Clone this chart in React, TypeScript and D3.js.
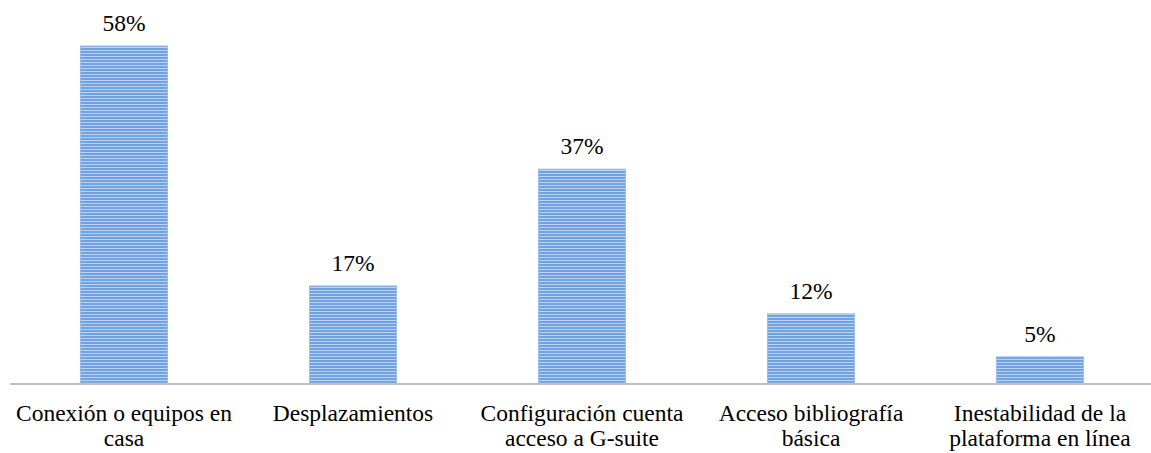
import React from "react";
import * as d3 from "d3";

const categories: string[][] = [
  ["Conexión o equipos en", "casa"],
  ["Desplazamientos"],
  ["Configuración cuenta", "acceso a G-suite"],
  ["Acceso bibliografía", "básica"],
  ["Inestabilidad de la", "plataforma en línea"],
];
const values: number[] = [58, 16.7, 36.8, 11.9, 4.5];
const labels: string[] = ["58%", "17%", "37%", "12%", "5%"];

const W = 1151;
const H = 453;
const left = 9.5;
const right = 1154.5;
const baseline = 383;
const top = 46;

export default function App() {
  const x = d3
    .scaleBand<number>()
    .domain(d3.range(categories.length))
    .range([left, right])
    .paddingInner(0.62)
    .paddingOuter(0.31);
  const y = d3.scaleLinear().domain([0, 58]).range([baseline, top]);
  const font = "'Liberation Serif', 'Times New Roman', serif";
  const fs = 23.5;

  return (
    <svg
      width={W}
      height={H}
      style={{ position: "absolute", left: 0, top: 0 }}
    >
      <defs>
        <pattern id="stripes" width={8} height={3} patternUnits="userSpaceOnUse">
          <rect x={0} y={0} width={8} height={3} fill="#6fa2de" />
          <rect x={0} y={2} width={8} height={1} fill="#bcd3f1" />
        </pattern>
      </defs>
      {values.map((v, i) => (
        <rect
          key={i}
          x={x(i)!}
          y={y(v)}
          width={x.bandwidth()}
          height={baseline - y(v)}
          fill="url(#stripes)"
          stroke="#9cbde8"
          strokeWidth={1}
        />
      ))}
      <line x1={10} x2={W} y1={baseline + 1} y2={baseline + 1} stroke="#bfbfbf" strokeWidth={2} />
      {values.map((v, i) => (
        <text
          key={"l" + i}
          x={x(i)! + x.bandwidth() / 2}
          y={y(v) - 15}
          textAnchor="middle"
          fontFamily={font}
          fontSize={fs}
          fill="#000"
        >
          {labels[i]}
        </text>
      ))}
      {categories.map((lines, i) => (
        <text
          key={"c" + i}
          x={x(i)! + x.bandwidth() / 2}
          textAnchor="middle"
          fontFamily={font}
          fontSize={fs}
          fill="#000"
        >
          {lines.map((t, j) => (
            <tspan key={j} x={x(i)! + x.bandwidth() / 2} y={421 + j * 25}>
              {t}
            </tspan>
          ))}
        </text>
      ))}
    </svg>
  );
}
